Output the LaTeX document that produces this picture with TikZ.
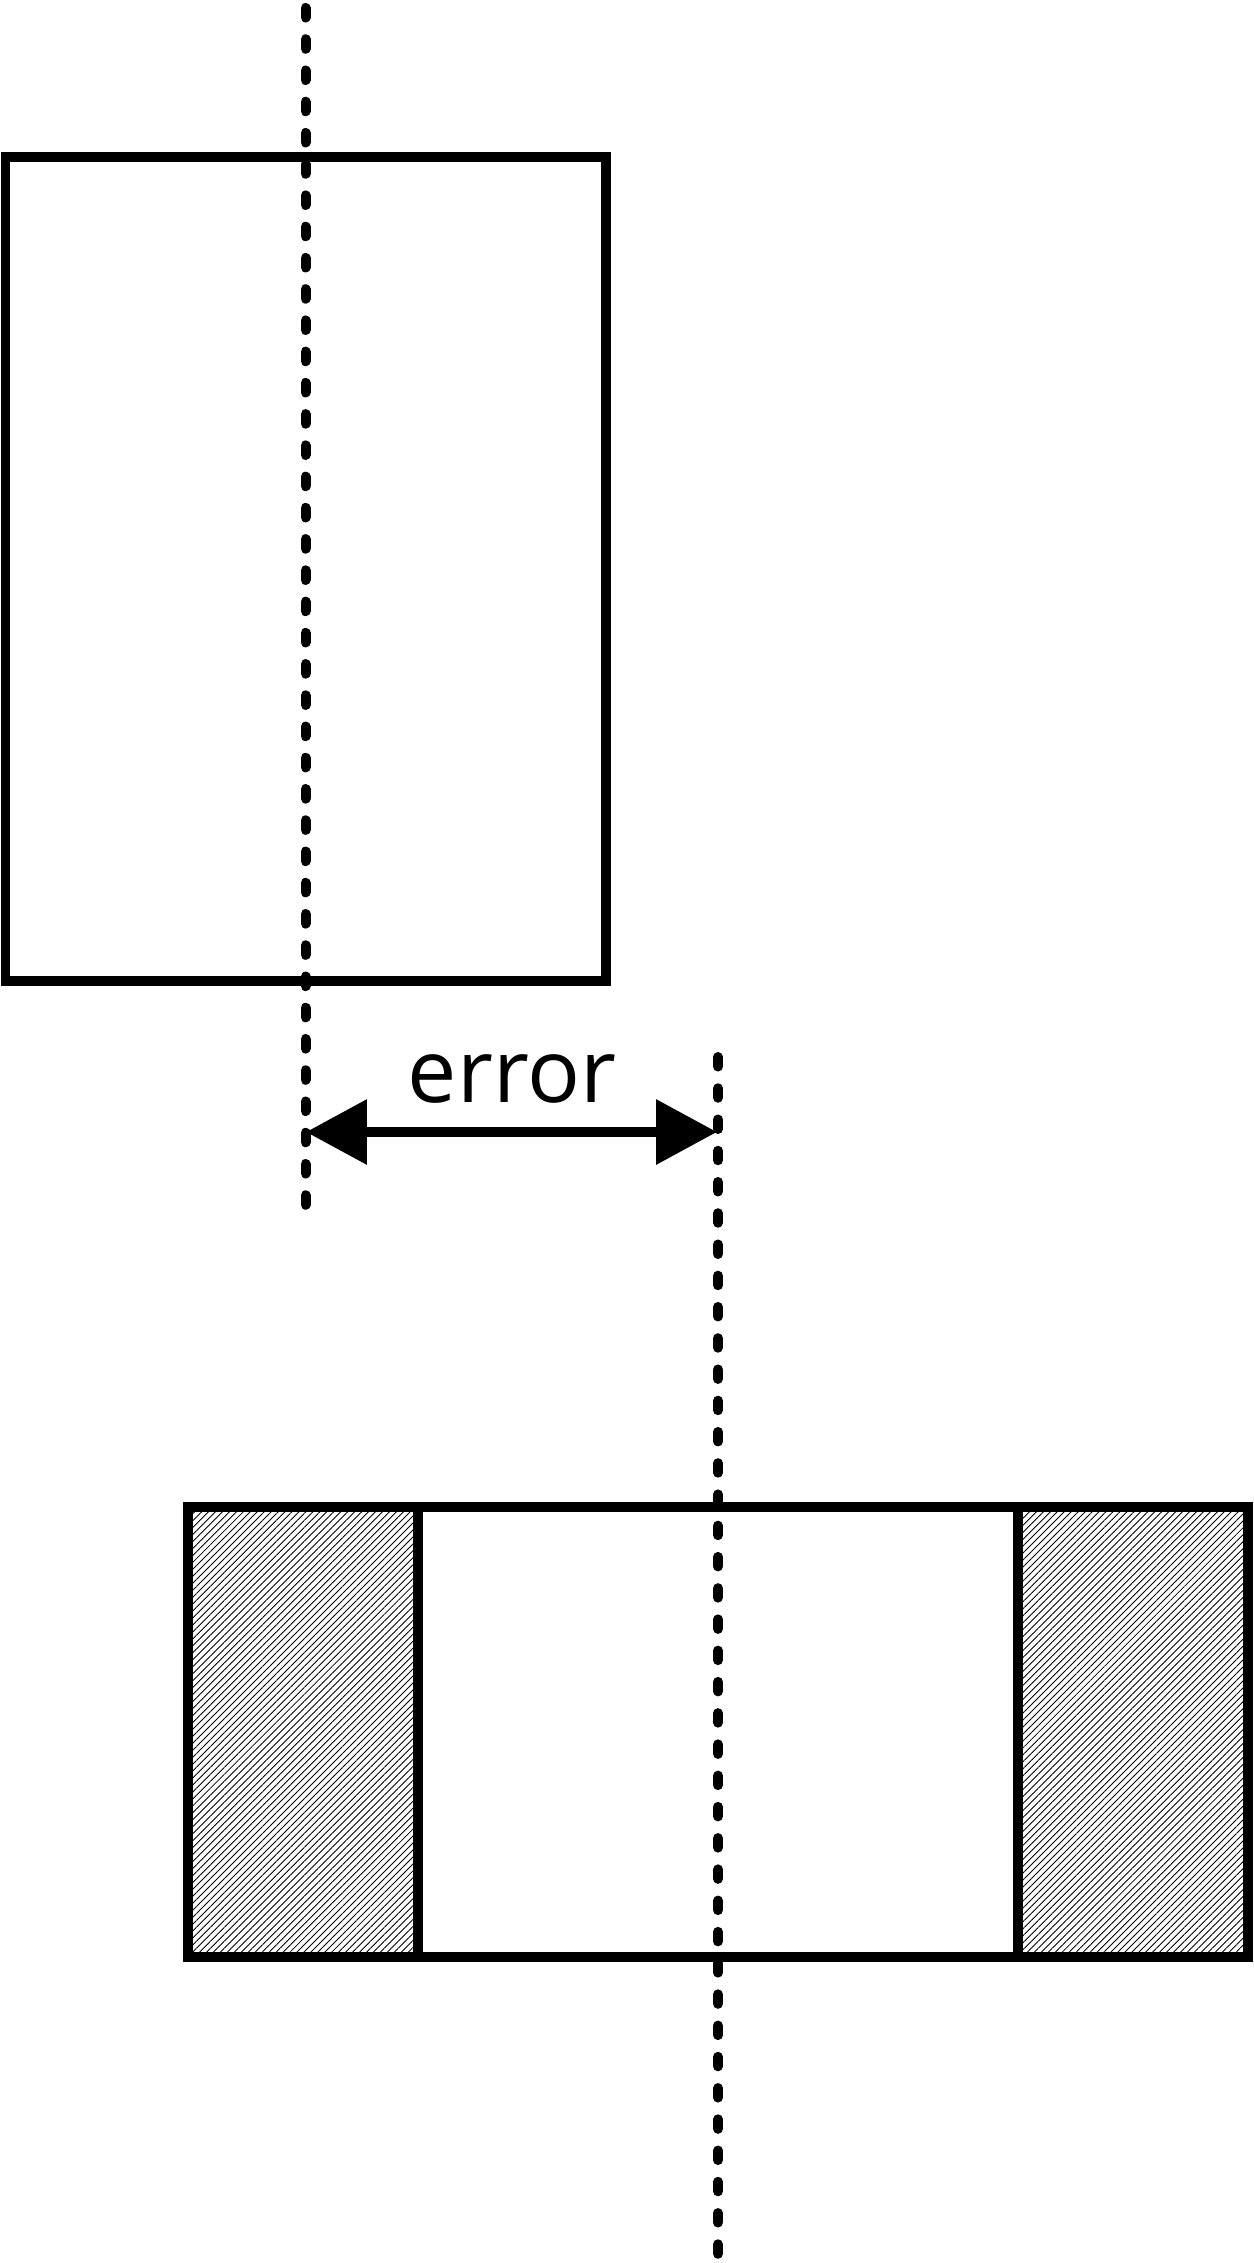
\documentclass[tikz,border=0pt]{standalone}
\usepackage{fontspec}
\setmainfont{Open Sans}
\usetikzlibrary{arrows.meta,patterns.meta}
\tikzset{
  part/.style={draw,line width=0.2cm},
  axisline/.style={line width=0.2cm,line cap=round,dash pattern=on 0.19cm off 0.435cm},
  hatch/.style={pattern={Lines[angle=45,distance=2.8pt,line width=0.5pt]}},
  dim/.style={{Triangle[length=1.22cm,width=1.26cm]}-{Triangle[length=1.22cm,width=1.26cm]},line width=0.2cm},
  lbl/.style={font=\fontsize{50}{60}\selectfont,inner sep=0pt}
}

\begin{document}
\begin{tikzpicture}[x=0.02cm,y=-0.02cm]
\useasboundingbox (0,0) rectangle (1254,2263);
% upper block
\draw[part] (5.5,156.5) rectangle (606,981);
% lower block, hatched ends
\fill[hatch] (188,1507) rectangle (418,1957);
\fill[hatch] (1018,1507) rectangle (1248,1957);
\draw[part] (188,1507) rectangle (1248,1957);
\draw[part] (418,1507) -- (418,1957) (1018,1507) -- (1018,1957);
% centre lines
\coordinate (ax1top) at (305.5,8);
\coordinate (ax1bot) at (305.5,1205);
\coordinate (ax2top) at (718,1057);
\coordinate (ax2bot) at (718,2275);
\draw[axisline] (ax1top) -- (ax1bot);
\draw[axisline] (ax2top) -- (ax2bot);
% offset
\coordinate (e1) at (306,1132);
\coordinate (e2) at (717,1132);
\draw[dim] (e1) -- (e2);
\node[lbl,anchor=base] (err) at (512,1102) {error};
\end{tikzpicture}
\end{document}
